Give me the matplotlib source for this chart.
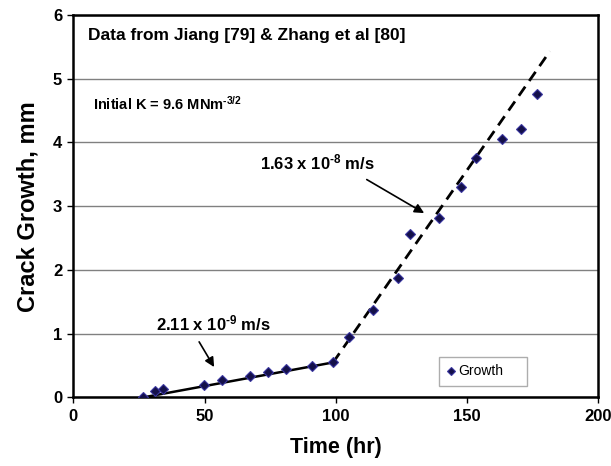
import matplotlib.pyplot as plt

plt.rcParams['font.family'] = ['Liberation Sans', 'DejaVu Sans']
plt.rcParams['mathtext.fontset'] = 'custom'
plt.rcParams['mathtext.rm'] = 'Liberation Sans:bold'
plt.rcParams['mathtext.bf'] = 'Liberation Sans:bold'
plt.rcParams['mathtext.it'] = 'Liberation Sans:bold'

# data
time_hr = [26.4, 31.1, 34.1, 49.9, 56.5, 67.3, 74.1, 81.0, 90.8, 98.8,
           105.1, 114.3, 123.8, 128.4, 139.3, 147.7, 153.3, 163.4, 170.6, 176.8]
growth_mm = [0.00, 0.10, 0.14, 0.20, 0.27, 0.34, 0.40, 0.45, 0.50, 0.55,
             0.95, 1.38, 1.88, 2.57, 2.81, 3.30, 3.75, 4.05, 4.21, 4.76]

# fitted lines (start / end)
slow_x = [26.4, 99.0]
slow_y = [0.0, 0.55]
fast_x = [99.0, 181.6]
fast_y = [0.55, 5.43]

fig = plt.figure(figsize=(6.11, 4.66), dpi=100)
ax = fig.add_axes([0.12, 0.147, 0.859, 0.821])

ax.set_xlim(0, 200)
ax.set_ylim(0, 6)
ax.set_xticks([0, 50, 100, 150, 200])
ax.set_yticks([0, 1, 2, 3, 4, 5, 6])
ax.yaxis.grid(True, color='#808080', linewidth=1)
ax.set_axisbelow(True)

ax.plot(slow_x, slow_y, color='black', linewidth=1.8, zorder=2)
ax.plot(fast_x, fast_y, color='black', linewidth=2, linestyle=(0, (4, 2.5)), zorder=2)
ax.plot(time_hr, growth_mm, linestyle='none', marker='D', markersize=5.5,
        markerfacecolor='#14104a', markeredgecolor='#3a36a0', markeredgewidth=0.8,
        label='Growth', zorder=3)

for s in ax.spines.values():
    s.set_linewidth(1.8)
    s.set_color('black')

ax.tick_params(axis='both', direction='out', length=4, width=1, labelsize=12, pad=4)
for lab in ax.get_xticklabels() + ax.get_yticklabels():
    lab.set_fontweight('bold')

ax.set_xlabel('Time (hr)', fontsize=15.5, fontweight='bold', labelpad=10)
ax.set_ylabel('Crack Growth, mm', fontsize=17, fontweight='bold', labelpad=10)

ax.text(5.7, 5.67, 'Data from Jiang [79] & Zhang et al [80]', fontsize=12.5,
        fontweight='bold', va='center', ha='left')
ax.text(7.6, 4.6, 'Initial K = 9.6 MNm$^{\u2010\\mathrm{3/2}}$', fontsize=10.5,
        fontweight='bold', va='center', ha='left')

ax.annotate('', xy=(54.2, 0.44), xytext=(47.4, 0.91),
            arrowprops=dict(arrowstyle='-|>', color='black', lw=1.2, mutation_scale=14))
ax.text(53.3, 1.16, '2.11 x 10$^{\u2010\\mathrm{9}}$ m/s', fontsize=12,
        fontweight='bold', ha='center', va='center')

ax.annotate('', xy=(134.6, 2.87), xytext=(110.9, 3.44),
            arrowprops=dict(arrowstyle='-|>', color='black', lw=1.2, mutation_scale=14))
ax.text(93.0, 3.68, '1.63 x 10$^{\u2010\\mathrm{8}}$ m/s', fontsize=12,
        fontweight='bold', ha='center', va='center')

leg = ax.legend(loc='lower left', bbox_to_anchor=(0.697, 0.03, 0.168, 0.076),
                mode='expand', borderaxespad=0, fontsize=10, frameon=True, fancybox=False,
                handlelength=0.6, handletextpad=0.2, borderpad=0.55, markerscale=0.8)
leg.get_frame().set_edgecolor('#999999')
leg.get_frame().set_linewidth(1)

fig.savefig('out.png', dpi=100)
